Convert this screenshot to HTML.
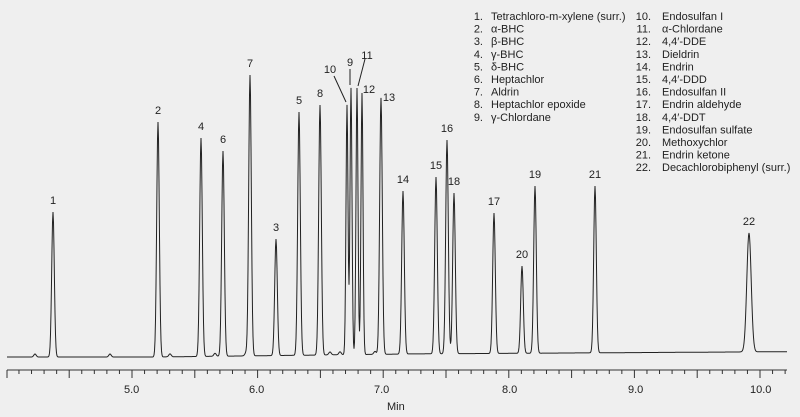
<!DOCTYPE html>
<html><head><meta charset="utf-8"><style>
body{margin:0;background:#efefef;}
svg{display:block;font-family:"Liberation Sans",sans-serif;}
</style></head><body>
<svg id="s" width="800" height="417" viewBox="0 0 800 417">
<rect width="800" height="417" fill="#efefef"/>
<g id="trace"></g>
<g id="axis" stroke="#333" stroke-width="1"></g>
<g font-size="11" fill="#222">
<text x="124" y="393">5.0</text><text x="249" y="393">6.0</text><text x="374" y="393">7.0</text>
<text x="502" y="393">8.0</text><text x="628" y="393">9.0</text><text x="750" y="393">10.0</text>
<text x="387" y="410">Min</text>
</g>
<g id="leg" font-size="11" fill="#222"></g>
<g id="lbl" font-size="11" fill="#222" text-anchor="middle"></g>
</svg>
<script>
var NS="http://www.w3.org/2000/svg";
function el(p,t,a,txt){var e=document.createElementNS(NS,t);for(var k in a)e.setAttribute(k,a[k]);if(txt)e.textContent=txt;p.appendChild(e);return e;}
var peaks=[[1,53,212],[2,158,122],[3,276,239],[4,201,138],[5,299,112],[6,223,151],[7,250,75],[8,320,105],[9,351,88],[10,347,105],[11,357,88],[12,362,93],[13,381,100],[14,403,191],[15,436,177],[16,447,140],[17,494,213],[18,454,193],[19,535,186],[20,522,266],[21,595,186],[22,749,233]];
var small=[[35,354],[110,353],[170,354],[215,354],[246,353],[330,355],[340,355],[375,354],[380,354]];
function base(x){if(x<155)return 357;if(x<400)return 357-(x-155)*0.012;return 354-(x-400)*0.006;}
var d="";
for(var x=7;x<=787;x+=0.5){var y=base(x);
 peaks.forEach(function(p){var b=base(p[1]);var h=b-p[2];var w=p[0]==22?2.2:(p[0]>=9&&p[0]<=12?1.0:1.3);y-=h*Math.exp(-Math.pow((x-p[1])/w,2)/2);});
 small.forEach(function(p){y-=3*Math.exp(-Math.pow((x-p[0])/1.2,2)/2);});
 d+=(x==7?"M":"L")+x+" "+y.toFixed(1);}
el(document.getElementById("trace"),"path",{d:d,fill:"none",stroke:"#222","stroke-width":"1"});
var ax=document.getElementById("axis");
el(ax,"line",{x1:7,y1:370,x2:787,y2:370});
for(var i=0;;i++){var t=4.1+i*0.1;var x=132+(t-5)*125.6;if(x>787)break;if(x<7)continue;
 var maj=Math.abs(t*2-Math.round(t*2))<0.01;el(ax,"line",{x1:x,y1:370,x2:x,y2:maj?378:374});}
el(ax,"line",{x1:7,y1:370,x2:7,y2:378});
var lb=document.getElementById("lbl");
var pos={9:[350,66],10:[330,73],11:[367,59],12:[369,93],13:[389,101]};
peaks.forEach(function(p){var q=pos[p[0]]||[p[1],p[2]-8];el(lb,"text",{x:q[0],y:q[1]},String(p[0]));});
el(lb,"line",{x1:350,y1:69,x2:350,y2:85,stroke:"#222"});
el(lb,"line",{x1:334,y1:76,x2:346,y2:102,stroke:"#222"});
el(lb,"line",{x1:365,y1:59,x2:358,y2:86,stroke:"#222"});
var names=["Tetrachloro-m-xylene (surr.)","α-BHC","β-BHC","γ-BHC","δ-BHC","Heptachlor","Aldrin","Heptachlor epoxide","γ-Chlordane","Endosulfan I","α-Chlordane","4,4′-DDE","Dieldrin","Endrin","4,4′-DDD","Endosulfan II","Endrin aldehyde","4,4′-DDT","Endosulfan sulfate","Methoxychlor","Endrin ketone","Decachlorobiphenyl (surr.)"];
var lg=document.getElementById("leg");
names.forEach(function(n,i){var c=i<9?0:1;var r=c?i-9:i;var y=20+r*12.6;
 el(lg,"text",{x:c?651:483,y:y,"text-anchor":"end"},(i+1)+".");
 el(lg,"text",{x:c?662:491,y:y},n);});
</script>
</body></html>
